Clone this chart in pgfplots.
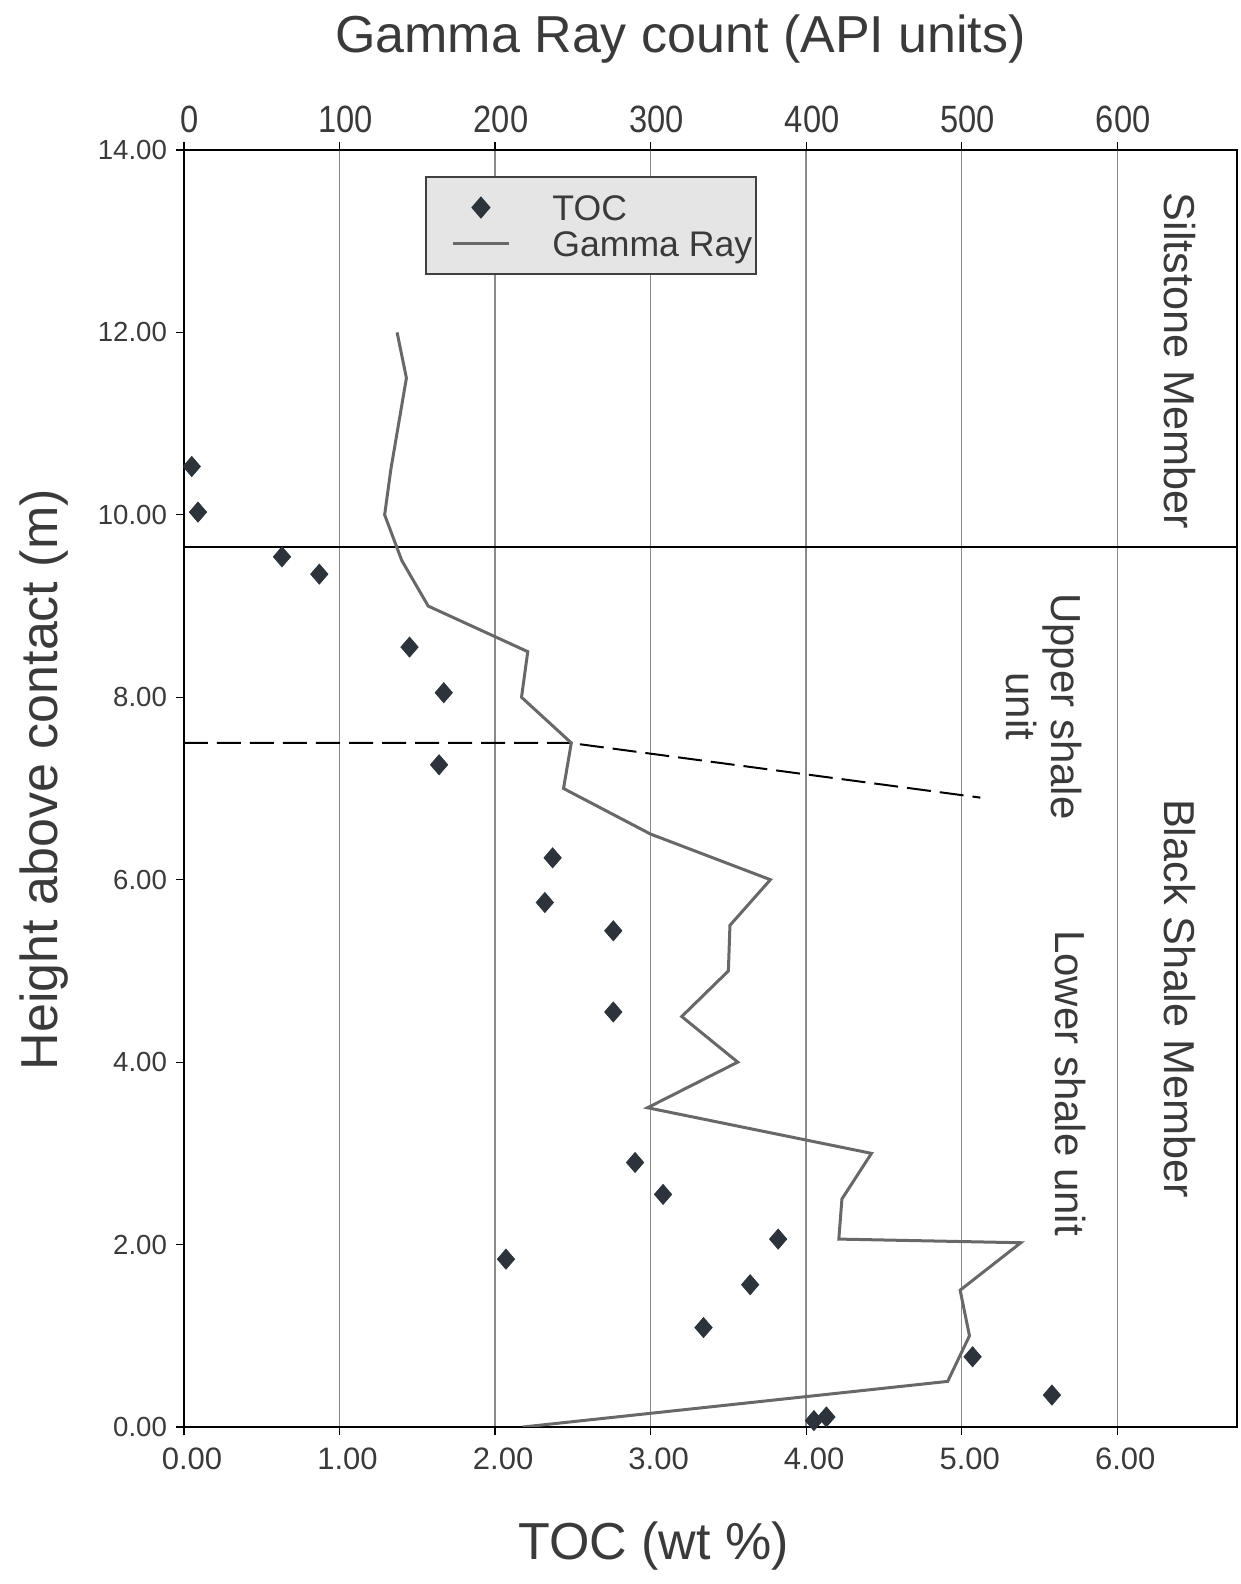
\documentclass[border=0pt]{standalone}
\usepackage{pgfplots}
\pgfplotsset{compat=1.18}
\usepackage{fontspec}
\setmainfont{Liberation Sans}
\newfontfamily\narrowfont[FakeStretch=0.86]{Liberation Sans}
\definecolor{txt}{HTML}{3A3A3A}
\definecolor{gridc}{HTML}{8A8A8A}
\definecolor{gam}{HTML}{686868}
\definecolor{mk}{HTML}{2C333B}
\begin{document}
\begin{tikzpicture}
\begin{axis}[
  at={(0,0)}, anchor=south west, scale only axis,
  width=526.5pt, height=638.5pt,
  xmin=0, xmax=6.77, ymin=0, ymax=14,
  xtick={0,1,...,6}, ytick={0,2,...,14},
  xtick pos=bottom, ytick pos=left,
  tick align=outside, major tick length=4pt,
  tick style={black, line width=0.6pt},
  xmajorgrids, grid style={gridc, line width=0.7pt},
  axis line style={black, line width=1.2pt},
  /pgf/number format/fixed, /pgf/number format/fixed zerofill,
  /pgf/number format/precision=2, /pgf/number format/assume math mode=true,
  xticklabel style={font=\fontsize{15.5pt}{18pt}\selectfont, text=txt, xshift=4pt, yshift=-3pt},
  yticklabel style={font=\fontsize{13.8pt}{16pt}\selectfont, text=txt, xshift=-1pt},
  xlabel={TOC (wt \%)},
  xlabel style={font=\fontsize{26pt}{31pt}\selectfont, text=txt, at={(axis description cs:0.446,-0.104)}, anchor=base},
  ylabel={Height above contact (m)},
  ylabel style={font=\fontsize{26pt}{31pt}\selectfont, text=txt, at={(axis description cs:-0.1205,0.507)}, anchor=base},
]
% TOC data
\addplot[only marks, mark=diamond*, mark size=5pt, mark options={fill=mk, draw=mk, xscale=1.15}] coordinates {
(0.05,10.53) (0.09,10.03) (0.63,9.54) (0.87,9.35) (1.45,8.55) (1.67,8.05) (1.64,7.26)
(2.37,6.24) (2.32,5.75) (2.76,5.44) (2.76,4.55) (2.90,2.90) (3.08,2.55) (2.07,1.84)
(3.82,2.06) (3.64,1.56) (3.34,1.09) (5.07,0.77) (5.58,0.35) (4.05,0.07) (4.13,0.11)
};
% member boundary
\addplot[black, line width=1pt] coordinates {(0,9.65) (6.77,9.65)};
% unit boundary
\addplot[black, line width=1pt, dash pattern=on 12pt off 4.5pt] coordinates {(0,7.5) (2.48,7.5) (5.12,6.9)};
\node[rotate=-90, font=\fontsize{21.6pt}{26pt}\selectfont, text=txt] at (axis cs:6.40,11.69) {Siltstone Member};
\node[rotate=-90, font=\fontsize{21.6pt}{26pt}\selectfont, text=txt] at (axis cs:6.40,4.70) {Black Shale Member};
\node[rotate=-90, font=\fontsize{21pt}{22.5pt}\selectfont, text=txt, align=center] at (axis cs:5.53,7.90) {Upper shale\\unit};
\node[rotate=-90, font=\fontsize{21pt}{26pt}\selectfont, text=txt] at (axis cs:5.70,3.77) {Lower shale unit};
\end{axis}
\begin{axis}[
  at={(0,0)}, anchor=south west, scale only axis,
  width=526.5pt, height=638.5pt,
  xmin=0, xmax=677, ymin=0, ymax=14,
  axis x line*=top, axis y line=none,
  xtick={0,100,...,600},
  tick align=outside, major tick length=4pt,
  tick style={black, line width=0.6pt},
  axis line style={black, line width=1.2pt},
  /pgf/number format/assume math mode=true,
  xticklabel style={font=\narrowfont\fontsize{19pt}{22pt}\selectfont, text=txt, xshift=3pt, yshift=1pt},
  xlabel={Gamma Ray count (API units)},
  xlabel style={font=\fontsize{26pt}{31pt}\selectfont, text=txt, at={(axis description cs:0.4715,1.076)}, anchor=base},
  legend cell align=left,
  legend image code/.code={\path[draw=none] (-11.5pt,0pt) -- (0pt,0pt); \draw[mark repeat=2,mark phase=2,#1] plot coordinates {(0pt,0pt) (14pt,0pt) (28pt,0pt)};},
  legend style={at={(axis description cs:0.229,0.9796)}, anchor=north west,
    fill=black!10, draw=black!75, line width=0.8pt,
    font=\fontsize{17.8pt}{18pt}\selectfont, text=txt,
    inner xsep=2pt, inner ysep=9pt, row sep=5.3pt,
    nodes={inner xsep=0pt, inner ysep=0pt, text height=12.7pt, text depth=0pt},
    /tikz/every odd column/.append style={column sep=21pt}},
]
\addlegendimage{only marks, mark=diamond*, mark size=5pt, mark options={fill=mk, draw=mk, xscale=1.15}}
\addlegendentry{TOC}
% Gamma ray log
\addplot[gam, line width=1.5pt] coordinates {
(137,12.0) (143,11.5) (138,11.0) (133,10.5) (129,10.0) (140,9.5) (157,9.0)
(221,8.5) (217,8.0) (249,7.5) (244,7.0) (300,6.5) (377,6.0) (351,5.5) (350,5.0)
(320,4.5) (356,4.0) (298,3.5) (442,3.0) (423,2.5) (421,2.06) (538,2.02)
(499,1.5) (505,1.0) (491,0.5) (218,0.0)
};
\addlegendentry{Gamma Ray}
\end{axis}
\pgfresetboundingbox
\path (-92pt,-78.5pt) rectangle (528.5pt,713.5pt);
\end{tikzpicture}
\end{document}
